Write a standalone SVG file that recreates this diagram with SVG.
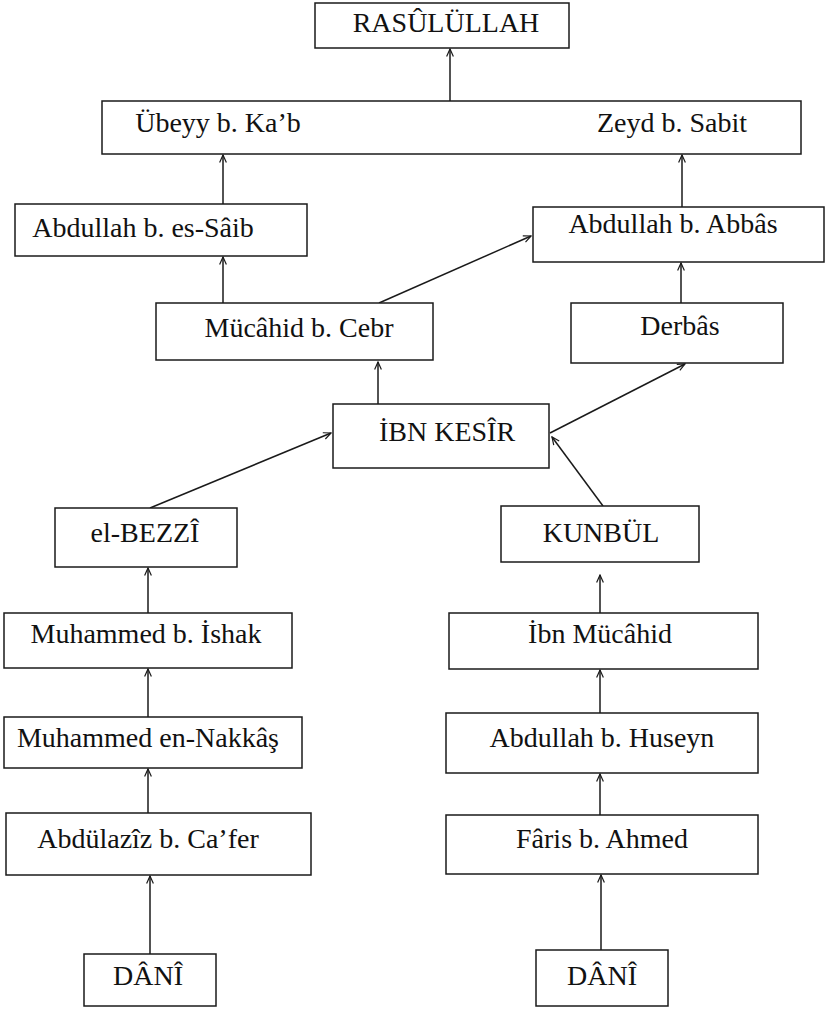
<svg xmlns="http://www.w3.org/2000/svg" width="826" height="1009" viewBox="0 0 826 1009">
<style>
.box{fill:#fff;stroke:#1a1a1a;stroke-width:1.5}
.t{font-family:"Liberation Serif","Times New Roman",serif;font-size:28px;fill:#111;text-anchor:middle}
.c{stroke:#1a1a1a;stroke-width:1.5;fill:none;marker-end:url(#ah)}
</style>
<defs>
<marker id="ah" viewBox="0 0 12 12" refX="11" refY="6" markerWidth="9" markerHeight="9" markerUnits="userSpaceOnUse" orient="auto">
<path d="M1,1.5 L11,6 L1,10.5" fill="none" stroke="#1a1a1a" stroke-width="1.6"/>
</marker>
</defs>
<rect width="826" height="1009" fill="#fff"/>
<g id="connectors">
<line class="c" x1="450" y1="101" x2="450" y2="49"/>
<line class="c" x1="223" y1="204" x2="223" y2="155"/>
<line class="c" x1="682" y1="207" x2="682" y2="155"/>
<line class="c" x1="223" y1="303" x2="223" y2="257"/>
<line class="c" x1="379" y1="303" x2="531" y2="236"/>
<line class="c" x1="681" y1="303" x2="681" y2="263"/>
<line class="c" x1="378" y1="404" x2="378" y2="362"/>
<line class="c" x1="550" y1="433" x2="685" y2="364"/>
<line class="c" x1="150" y1="508" x2="331" y2="433"/>
<line class="c" x1="603" y1="506" x2="552" y2="437"/>
<line class="c" x1="148" y1="613" x2="148" y2="568"/>
<line class="c" x1="600" y1="613" x2="600" y2="575"/>
<line class="c" x1="148" y1="717" x2="148" y2="669"/>
<line class="c" x1="600" y1="713" x2="600" y2="670"/>
<line class="c" x1="148" y1="813" x2="148" y2="769"/>
<line class="c" x1="600" y1="815" x2="600" y2="774"/>
<line class="c" x1="150" y1="954" x2="150" y2="876"/>
<line class="c" x1="601" y1="950" x2="601" y2="875"/>
</g>
<g id="rasulullah"><rect class="box" x="315" y="3" width="254" height="45"/><text class="t" x="446" y="32">RASÛLÜLLAH</text></g>
<g id="ubeyy-zeyd"><rect class="box" x="102" y="101" width="699" height="53"/><text class="t" x="218" y="132">Übeyy b. Ka’b</text><text class="t" x="672" y="132">Zeyd b. Sabit</text></g>
<g id="abdullah-saib"><rect class="box" x="15" y="204" width="292" height="52"/><text class="t" x="143" y="237">Abdullah b. es-Sâib</text></g>
<g id="abdullah-abbas"><rect class="box" x="533" y="207" width="291" height="55"/><text class="t" x="673" y="233">Abdullah b. Abbâs</text></g>
<g id="mucahid"><rect class="box" x="156" y="303" width="277" height="57"/><text class="t" x="299" y="337">Mücâhid b. Cebr</text></g>
<g id="derbas"><rect class="box" x="571" y="303" width="212" height="60"/><text class="t" x="680" y="335">Derbâs</text></g>
<g id="ibn-kesir"><rect class="box" x="333" y="404" width="216" height="64"/><text class="t" x="447" y="441">İBN KESÎR</text></g>
<g id="bezzi"><rect class="box" x="55" y="508" width="182" height="59"/><text class="t" x="145" y="542">el-BEZZÎ</text></g>
<g id="kunbul"><rect class="box" x="501" y="506" width="198" height="56"/><text class="t" x="601" y="542">KUNBÜL</text></g>
<g id="muhammed-ishak"><rect class="box" x="4" y="613" width="288" height="55"/><text class="t" x="146" y="643">Muhammed b. İshak</text></g>
<g id="ibn-mucahid"><rect class="box" x="449" y="613" width="309" height="56"/><text class="t" x="600" y="643">İbn Mücâhid</text></g>
<g id="nakkas"><rect class="box" x="4" y="717" width="298" height="51"/><text class="t" x="148" y="747">Muhammed en-Nakkâş</text></g>
<g id="huseyn"><rect class="box" x="446" y="713" width="312" height="60"/><text class="t" x="602" y="747">Abdullah b. Huseyn</text></g>
<g id="abdulaziz"><rect class="box" x="6" y="813" width="305" height="62"/><text class="t" x="148" y="848">Abdülazîz b. Ca’fer</text></g>
<g id="faris"><rect class="box" x="446" y="815" width="312" height="59"/><text class="t" x="602" y="848">Fâris b. Ahmed</text></g>
<g id="dani-left"><rect class="box" x="84" y="954" width="132" height="52"/><text class="t" x="148" y="985">DÂNÎ</text></g>
<g id="dani-right"><rect class="box" x="536" y="950" width="132" height="56"/><text class="t" x="602" y="985">DÂNÎ</text></g>
</svg>
